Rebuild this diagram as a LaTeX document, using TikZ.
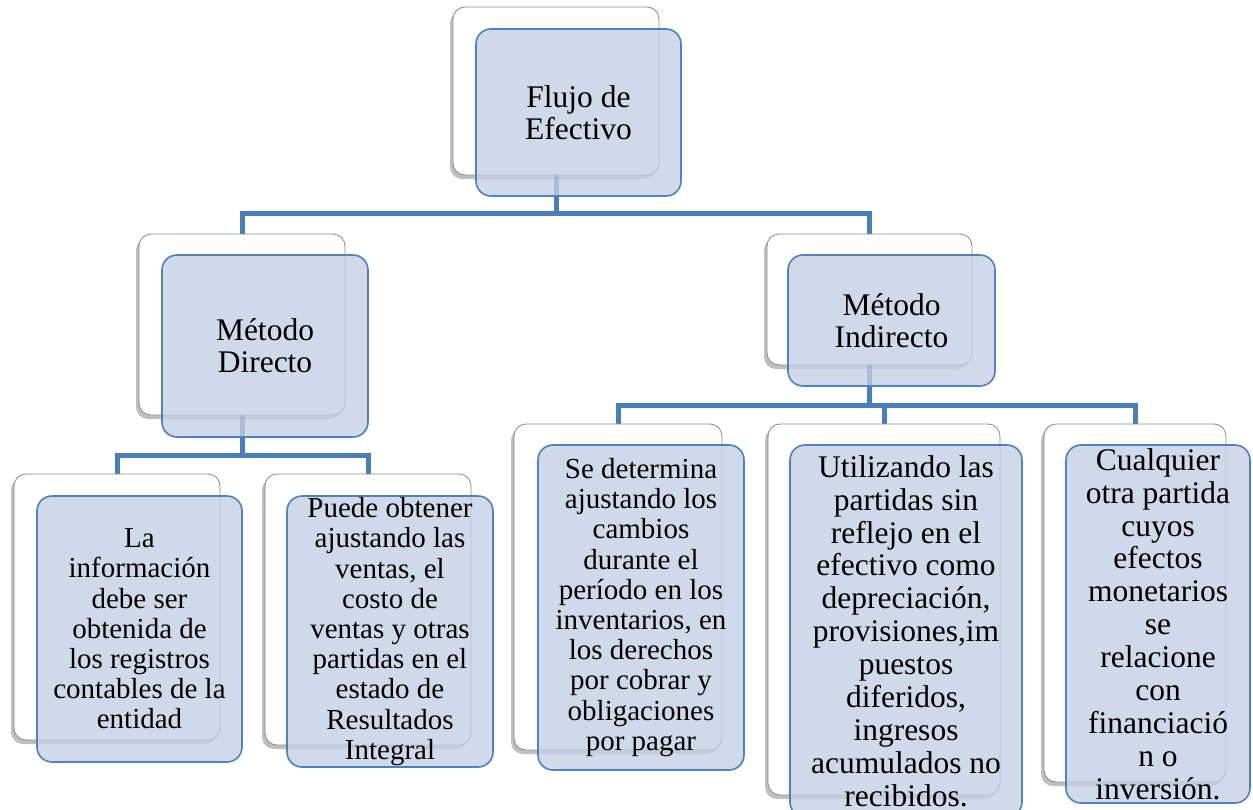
\documentclass[tikz,border=0pt]{standalone}
\usepackage{fontspec}
\setmainfont{Liberation Serif}
\usetikzlibrary{shadows}
\pgfdeclarelayer{bg}
\pgfsetlayers{bg,main}
\definecolor{conncol}{RGB}{74,126,187}
\definecolor{bordcol}{RGB}{79,129,189}
\definecolor{fillcol}{RGB}{196,207,228}
\definecolor{graycol}{RGB}{135,135,135}
\tikzset{
  wbox/.style={draw=graycol, fill=white, rounded corners=12pt, line width=0.8pt,
    inner sep=0pt, outer sep=0pt, anchor=north west,
    drop shadow={shadow xshift=-3pt, shadow yshift=-4pt, fill=black, opacity=0.25}},
  bbox/.style={draw=bordcol, fill=fillcol, fill opacity=0.78, text opacity=1,
    rounded corners=15pt, line width=1.6pt, inner sep=0pt, outer sep=0pt,
    anchor=north west, align=center},
  fbig/.style={font=\fontsize{31.5}{32}\selectfont},
  fsmall/.style={font=\fontsize{29}{30.2}\selectfont},
  fmid/.style={font=\fontsize{31.5}{32.9}\selectfont},
  conn/.style={draw=conncol, line width=5pt}
}
\begin{document}
\begin{tikzpicture}[x=1pt,y=-1pt]
\useasboundingbox (0,0) rectangle (1253,809);
\clip (0,0) rectangle (1253,809);
% white (back) boxes
\node[wbox, minimum width=206pt, minimum height=168pt] (w0) at (453,7) {};
\node[wbox, minimum width=206pt, minimum height=181pt] (w1) at (139,234) {};
\node[wbox, minimum width=205pt, minimum height=131pt] (w2) at (767,234) {};
\node[wbox, minimum width=206pt, minimum height=266pt] (w3) at (14,474) {};
\node[wbox, minimum width=206pt, minimum height=271pt] (w4) at (265,474) {};
\node[wbox, minimum width=208pt, minimum height=326pt] (w5) at (514,424) {};
\node[wbox, minimum width=232pt, minimum height=371pt] (w6) at (768,424) {};
\node[wbox, minimum width=182pt, minimum height=358pt] (w7) at (1044,424) {};
% blue (front) boxes
\node[bbox, fbig, minimum width=205pt, minimum height=167pt] (b0) at (476,29) {Flujo de\\Efectivo};
\node[bbox, fbig, minimum width=206pt, minimum height=182pt] (b1) at (162,255) {Método\\Directo};
\node[bbox, fbig, minimum width=207pt, minimum height=131pt] (b2) at (788,255) {Método\\Indirecto};
\node[bbox, fsmall, minimum width=205pt, minimum height=266pt] (b3) at (37,496) {La\\información\\debe ser\\obtenida de\\los registros\\contables de la\\entidad};
\node[bbox, fsmall, minimum width=206pt, minimum height=271pt] (b4) at (287,496) {Puede obtener\\ajustando las\\ventas, el\\costo de\\ventas y otras\\partidas en el\\estado de\\Resultados\\Integral};
\node[bbox, fsmall, minimum width=206pt, minimum height=325pt] (b5) at (538,445) {Se determina\\ajustando los\\cambios\\durante el\\período  en los\\inventarios, en\\los derechos\\por cobrar y\\obligaciones\\por pagar};
\node[bbox, fmid, minimum width=232pt, minimum height=372pt] (b6) at (790,445) {Utilizando las\\partidas sin\\reflejo en el\\efectivo como\\depreciación,\\provisiones,im\\puestos\\diferidos,\\ingresos\\acumulados no\\recibidos.};
\node[bbox, fmid, minimum width=184pt, minimum height=358pt] (b7) at (1066,445) {Cualquier\\otra partida\\cuyos\\efectos\\monetarios\\se\\relacione\\con\\financiació\\n o\\inversión.};
% connectors
\coordinate (k0) at (556,213);
\coordinate (k1) at (242,455);
\coordinate (k2) at (869,405);
\begin{pgfonlayer}{bg}
\draw[conn] (w0.center) -- (w0.center |- k0) -| (w1.north);
\draw[conn] (w0.center |- k0) -| (w2.north);
\draw[conn] (w1.center) -- (w1.center |- k1) -| (w3.north);
\draw[conn] (w1.center |- k1) -| (w4.north);
\draw[conn] (w2.center) -- (w2.center |- k2) -| (w5.north);
\draw[conn] (w2.center |- k2) -| (w6.north);
\draw[conn] (w2.center |- k2) -| (w7.north);
\end{pgfonlayer}
\end{tikzpicture}
\end{document}
